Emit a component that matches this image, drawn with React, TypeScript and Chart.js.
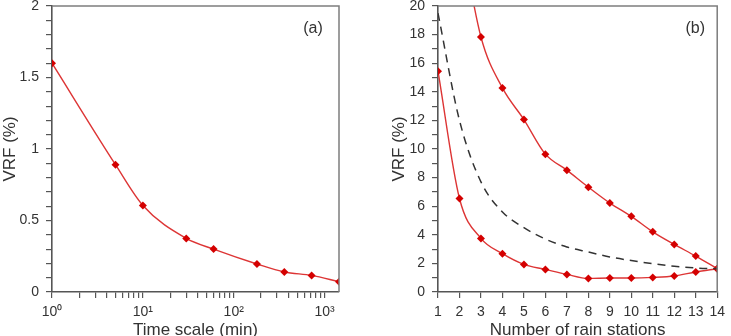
import React, { useEffect, useRef } from 'react';
import { Chart, registerables } from 'chart.js';

Chart.register(...registerables);

// ---- Panel (a): VRF vs time scale ----
const timeScaleMin = [1, 5, 10, 30, 60, 180, 360, 720, 1440];
const vrfByTimeScale = [1.6, 0.89, 0.605, 0.375, 0.3, 0.196, 0.14, 0.116, 0.072];
const logTickValues = [
  1, 2, 3, 4, 5, 6, 7, 8, 9,
  10, 20, 30, 40, 50, 60, 70, 80, 90,
  100, 200, 300, 400, 500, 600, 700, 800, 900,
  1000,
];
const logMajorValues = [1, 10, 100, 1000];
const logMajorLabels = ['10⁰', '10¹', '10²', '10³'];

// ---- Panel (b): VRF vs number of rain stations ----
const rainStations = [1, 2, 3, 4, 5, 6, 7, 8, 9, 10, 11, 12, 13, 14];
const vrfUpper = [null, 25.5, 17.83, 14.27, 12.06, 9.64, 8.52, 7.33, 6.22, 5.29, 4.21, 3.33, 2.51, 1.63];
const vrfLower = [15.44, 6.54, 3.75, 2.68, 1.93, 1.58, 1.23, 0.95, 0.98, 0.98, 1.02, 1.12, 1.4, 1.63];
const vrfDashed = [19.5, 12.0, 7.7, 5.6, 4.5, 3.7, 3.15, 2.8, 2.45, 2.2, 1.98, 1.8, 1.68, 1.63];
const upperPointRadius = [0, 0, 4, 4, 4, 4, 4, 4, 4, 4, 4, 4, 4, 4];

const FONT = '"Liberation Sans", Arial, Helvetica, sans-serif';
const TEXT = '#333333';
const AXIS = '#555555';
const RED_LINE = '#dd3535';
const RED_MARK = '#d40000';

const framePlugin = {
  id: 'frame',
  afterDraw(chart: any, _args: any, opts: any) {
    const { ctx, chartArea: a } = chart;
    ctx.save();
    ctx.strokeStyle = '#7d7d7d';
    ctx.lineWidth = 1.5;
    ctx.beginPath();
    ctx.moveTo(a.left, a.top);
    ctx.lineTo(a.right, a.top);
    ctx.lineTo(a.right, a.bottom);
    ctx.stroke();
    ctx.fillStyle = TEXT;
    ctx.font = `16px ${FONT}`;
    ctx.textAlign = 'center';
    ctx.textBaseline = 'middle';
    ctx.fillText(opts.label, a.right - opts.dx, a.top + opts.dy);
    ctx.restore();
  },
};

const CANVAS_H = 360;

function axisCommon() {
  return {
    grid: {
      drawOnChartArea: false,
      drawTicks: true,
      tickLength: 6,
      color: AXIS,
      lineWidth: 1.2,
    },
    border: { display: true, color: AXIS, width: 1.6 },
  };
}

export default function App() {
  const leftRef = useRef<HTMLCanvasElement | null>(null);
  const rightRef = useRef<HTMLCanvasElement | null>(null);

  useEffect(() => {
    Chart.defaults.font.family = FONT;
    Chart.defaults.color = TEXT;

    const left = new Chart(leftRef.current as HTMLCanvasElement, {
      type: 'line',
      data: {
        datasets: [
          {
            data: timeScaleMin.map((t, i) => ({ x: t, y: vrfByTimeScale[i] })),
            borderColor: RED_LINE,
            borderWidth: 1.4,
            pointStyle: 'rectRot',
            pointRadius: 4,
            pointBackgroundColor: RED_MARK,
            pointBorderColor: RED_MARK,
            pointBorderWidth: 0,
            cubicInterpolationMode: 'monotone',
            fill: false,
          },
        ],
      },
      options: {
        responsive: false,
        animation: false,
        devicePixelRatio: 1,
        layout: { padding: { left: 0, right: 26, top: 16, bottom: 0 } },
        plugins: {
          legend: { display: false },
          tooltip: { enabled: false },
          frame: { label: '(a)', dx: 26, dy: 23 },
        } as any,
        scales: {
          x: {
            type: 'logarithmic',
            min: 1,
            max: 1440,
            ...axisCommon(),
            afterBuildTicks: (s: any) => {
              s.ticks = logTickValues.map((v) => ({ value: v }));
            },
            afterFit: (s: any) => {
              s.height = CANVAS_H - 302;
            },
            ticks: {
              autoSkip: false,
              maxRotation: 0,
              padding: 6,
              font: { size: 14 },
              color: TEXT,
              callback: (v: any) => {
                const i = logMajorValues.indexOf(Number(v));
                return i >= 0 ? logMajorLabels[i] : '';
              },
            },
            title: {
              display: true,
              text: 'Time scale (min)',
              font: { size: 17 },
              color: TEXT,
              padding: { top: 0, bottom: 9 },
            },
          },
          y: {
            type: 'linear',
            min: 0,
            max: 2,
            ...axisCommon(),
            afterFit: (s: any) => {
              s.width = 52;
            },
            ticks: {
              stepSize: 0.1,
              autoSkip: false,
              padding: 7,
              font: { size: 14 },
              color: TEXT,
              callback: (v: any) => {
                const r = Math.round(Number(v) * 10);
                return r % 5 === 0 ? String(r / 10) : '';
              },
            },
            title: {
              display: true,
              text: 'VRF (%)',
              font: { size: 17 },
              color: TEXT,
              padding: { top: 0, bottom: 0 },
            },
          },
        },
      } as any,
      plugins: [framePlugin],
    });

    const right = new Chart(rightRef.current as HTMLCanvasElement, {
      type: 'line',
      data: {
        labels: rainStations,
        datasets: [
          {
            data: rainStations.map((n, i) => ({ x: n, y: vrfDashed[i] })),
            borderColor: '#333333',
            borderWidth: 1.5,
            borderDash: [8, 6],
            pointRadius: 0,
            cubicInterpolationMode: 'monotone',
            fill: false,
          },
          {
            data: rainStations.map((n, i) => ({ x: n, y: vrfUpper[i] })),
            borderColor: RED_LINE,
            borderWidth: 1.4,
            pointStyle: 'rectRot',
            pointRadius: upperPointRadius,
            pointBackgroundColor: RED_MARK,
            pointBorderColor: RED_MARK,
            pointBorderWidth: 0,
            cubicInterpolationMode: 'monotone',
            fill: false,
          },
          {
            data: rainStations.map((n, i) => ({ x: n, y: vrfLower[i] })),
            borderColor: RED_LINE,
            borderWidth: 1.4,
            pointStyle: 'rectRot',
            pointRadius: 4,
            pointBackgroundColor: RED_MARK,
            pointBorderColor: RED_MARK,
            pointBorderWidth: 0,
            cubicInterpolationMode: 'monotone',
            fill: false,
          },
        ],
      },
      options: {
        responsive: false,
        animation: false,
        devicePixelRatio: 1,
        layout: { padding: { left: 0, right: 8, top: 16, bottom: 0 } },
        plugins: {
          legend: { display: false },
          tooltip: { enabled: false },
          frame: { label: '(b)', dx: 22, dy: 23 },
        } as any,
        scales: {
          x: {
            type: 'linear',
            min: 1,
            max: 14,
            ...axisCommon(),
            afterFit: (s: any) => {
              s.height = CANVAS_H - 302;
            },
            ticks: {
              stepSize: 1,
              autoSkip: false,
              maxRotation: 0,
              padding: 6,
              font: { size: 14 },
              color: TEXT,
            },
            title: {
              display: true,
              text: 'Number of rain stations',
              font: { size: 17 },
              color: TEXT,
              padding: { top: 0, bottom: 9 },
            },
          },
          y: {
            type: 'linear',
            min: 0,
            max: 20,
            ...axisCommon(),
            afterFit: (s: any) => {
              s.width = 73;
            },
            ticks: {
              stepSize: 1,
              autoSkip: false,
              padding: 7,
              font: { size: 14 },
              color: TEXT,
              callback: (v: any) => {
                const n = Math.round(Number(v));
                return n % 2 === 0 ? String(n) : '';
              },
            },
            title: {
              display: true,
              text: 'VRF (%)',
              font: { size: 17 },
              color: TEXT,
              padding: { top: 24, bottom: 0 },
            },
          },
        },
      } as any,
      plugins: [framePlugin],
    });

    return () => {
      left.destroy();
      right.destroy();
    };
  }, []);

  return (
    <div
      style={{
        position: 'fixed',
        left: 0,
        top: 0,
        width: 731,
        height: 336,
        overflow: 'hidden',
        background: '#ffffff',
      }}
    >
      <canvas
        ref={leftRef}
        width={365}
        height={CANVAS_H}
        style={{ position: 'absolute', left: 0, top: -10, width: 365, height: CANVAS_H }}
      />
      <canvas
        ref={rightRef}
        width={366}
        height={CANVAS_H}
        style={{ position: 'absolute', left: 365, top: -10, width: 366, height: CANVAS_H }}
      />
    </div>
  );
}
